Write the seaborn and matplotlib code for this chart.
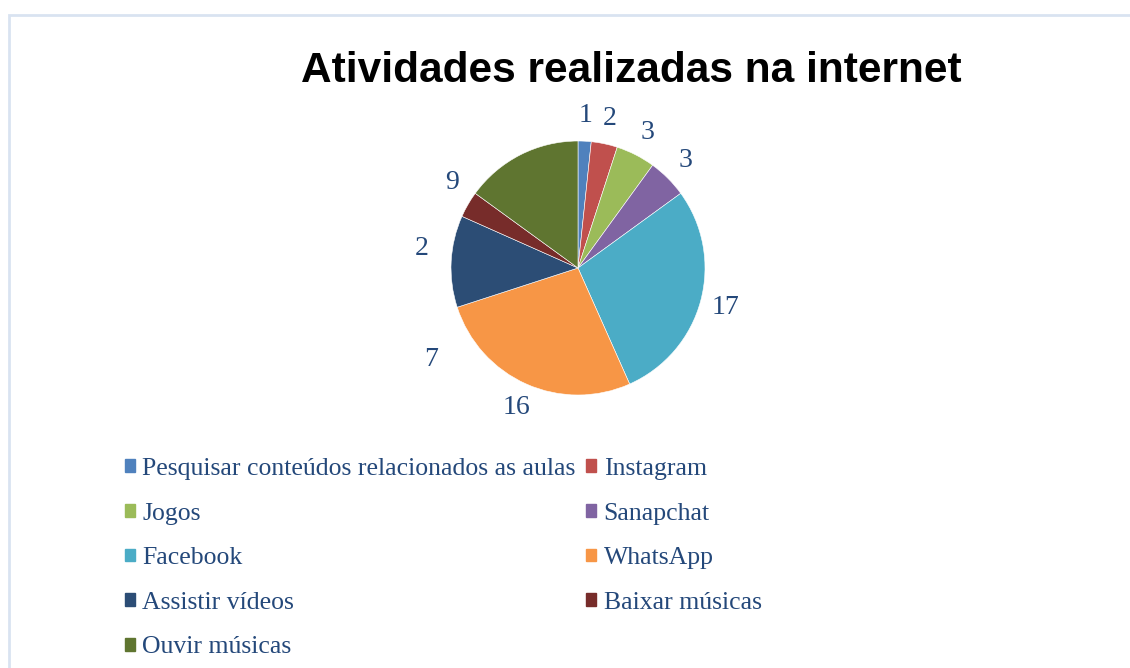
"""
Atividades realizadas na internet - pie chart
"""

import matplotlib.pyplot as plt
import matplotlib.patches as mpatches
import seaborn as sns
import numpy as np

# Data
atividades = [
    'Pesquisar conteúdos relacionados as aulas', 'Instagram', 'Jogos',
    'Sanapchat', 'Facebook', 'WhatsApp', 'Assistir vídeos',
    'Baixar músicas', 'Ouvir músicas',
]
quantidades = [1, 2, 3, 3, 17, 16, 7, 2, 9]

cores = ['#4F81BD', '#C0504D', '#9BBB59', '#8064A2', '#4BACC6',
         '#F79646', '#2C4D75', '#772C2A', '#5F7530']

sns.set_theme(style='white')
plt.rcParams['font.family'] = ['Liberation Serif', 'DejaVu Serif']
texto_cor = '#24487A'

fig = plt.figure(figsize=(11.3, 6.68), dpi=100)

# light frame like the original chart area
fig.patches.append(mpatches.Rectangle((9 / 1130, -0.05), 1.2, 1 - 15 / 668 + 0.05,
                                      transform=fig.transFigure, fill=False,
                                      edgecolor='#D9E3F1', linewidth=2))

# pie axes: center ~(578, 268) px, radius ~127 px
r_px = 127
lim = 1.5
box = 2 * lim * r_px
ax = fig.add_axes([(578 - box / 2) / 1130, (400 - box / 2) / 668, box / 1130, box / 668])

wedges, textos = ax.pie(quantidades, colors=cores, startangle=90, counterclock=False,
                        labels=[str(q) for q in quantidades], labeldistance=1.2,
                        wedgeprops=dict(edgecolor='white', linewidth=0.4))
ax.set_xlim(-lim, lim)
ax.set_ylim(-lim, lim)
ax.set_aspect('equal')

# the last labels were dragged in the original chart
desvio_rotulo = {6: (-35, 1.36), 7: (-23, 1.24), 8: (-29, 1.2)}
total = sum(quantidades)
inicio = 0
for i, (t, q) in enumerate(zip(textos, quantidades)):
    ang = (inicio + q / 2) / total * 360
    dist = 1.2
    if i in desvio_rotulo:
        ang += desvio_rotulo[i][0]
        dist = desvio_rotulo[i][1]
    rad = np.deg2rad(90 - ang)
    t.set_position((dist * np.cos(rad), dist * np.sin(rad)))
    t.set_ha('center')
    t.set_va('center')
    t.set_fontsize(20)
    t.set_color(texto_cor)
    inicio += q

fig.text(631 / 1130, 0.893, 'Atividades realizadas na internet', ha='center', va='center',
         fontsize=30.5, fontweight='bold', family=['Liberation Sans', 'DejaVu Sans'],
         color='black')

# legend filled row by row (2 columns)
ordem = [0, 2, 4, 6, 8, 1, 3, 5, 7]
handles = [mpatches.Patch(color=cores[i]) for i in ordem]
labels = [atividades[i] for i in ordem]
leg = fig.legend(handles, labels, ncol=2, loc='upper left',
                 bbox_to_anchor=(125 / 1130, 1 - 458 / 668), frameon=False,
                 fontsize=18.5, handlelength=0.38, handleheight=0.38, handletextpad=0.3,
                 columnspacing=0.4, labelspacing=0.88, labelcolor=texto_cor,
                 borderpad=0, borderaxespad=0)

plt.savefig('out.png', dpi=100)
plt.close()
